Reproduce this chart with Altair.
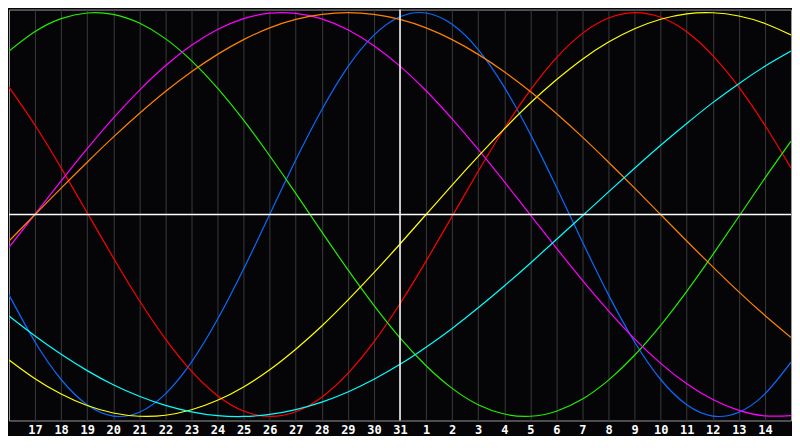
import altair as alt
import pandas as pd

# x positions: 0 = left edge (day 16), 1..29 = labelled days, 30 = right edge
positions = list(range(31))
day_labels = ["17", "18", "19", "20", "21", "22", "23", "24", "25", "26", "27", "28", "29", "30", "31",
              "1", "2", "3", "4", "5", "6", "7", "8", "9", "10", "11", "12", "13", "14"]

# values (percent, -100..100)
blue_23 = [-39.8, -63.1, -81.7, -94.2, -99.8, -97.9, -88.8, -73.1, -51.9, -27.0, 0.0, 27.0, 51.9, 73.1,
           88.8, 97.9, 99.8, 94.2, 81.7, 63.1, 39.8, 13.6, -13.6, -39.8, -63.1, -81.7, -94.2, -99.8,
           -97.9, -88.8, -73.1]
red_28 = [63.1, 44.2, 23.1, 0.9, -21.4, -42.6, -61.6, -77.6, -89.7, -97.3, -100.0, -97.7, -90.5, -78.7,
          -63.1, -44.2, -23.1, -0.9, 21.4, 42.6, 61.6, 77.6, 89.7, 97.3, 100.0, 97.7, 90.5, 78.7,
          63.1, 44.2, 23.1]
green_33 = [80.9, 90.6, 97.0, 99.8, 99.1, 94.8, 87.1, 76.2, 62.6, 46.7, 29.1, 10.5, -8.6, -27.3,
            -45.0, -61.1, -74.9, -86.1, -94.2, -98.8, -99.9, -97.4, -91.4, -82.0, -69.7, -54.9, -38.1,
            -19.9, -1.0, 18.0, 36.3]
magenta_38 = [-16.3, 0.2, 16.6, 32.6, 47.7, 61.5, 73.7, 83.8, 91.6, 97.0, 99.7, 99.6, 96.9, 91.5,
              83.6, 73.5, 61.3, 47.4, 32.3, 16.3, -0.2, -16.6, -32.6, -47.7, -61.6, -73.7, -83.8,
              -91.6, -97.0, -99.7, -99.6]
yellow_43 = [-72.0, -81.3, -88.9, -94.6, -98.3, -99.9, -99.4, -96.7, -92.0, -85.4, -76.9, -66.7, -55.2,
             -42.4, -28.8, -14.6, 0.0, 14.6, 28.8, 42.4, 55.2, 66.7, 76.9, 85.4, 92.0, 96.7, 99.4,
             99.9, 98.3, 94.6, 88.9]
orange_48 = [-13.1, 0.0, 13.1, 25.9, 38.3, 50.0, 60.9, 70.7, 79.3, 86.6, 92.4, 96.6, 99.1, 100.0,
             99.1, 96.6, 92.4, 86.6, 79.3, 70.7, 60.9, 50.0, 38.3, 25.9, 13.1, 0.0, -13.1, -25.9,
             -38.3, -50.0, -60.9]
cyan_53 = [-50.3, -60.2, -69.2, -77.3, -84.3, -90.0, -94.5, -97.7, -99.6, -100.0, -99.0, -96.6, -92.9,
           -87.9, -81.6, -74.2, -65.7, -56.4, -46.2, -35.4, -24.1, -12.4, -0.6, 11.2, 22.9, 34.3, 45.1,
           55.4, 64.8, 73.4, 80.9]

series_names = ["23", "28", "33", "38", "43", "48", "53"]
series_values = [blue_23, red_28, green_33, magenta_38, yellow_43, orange_48, cyan_53]
series_colors = ["#0a6aff", "#ff0000", "#22ee00", "#ff00ff", "#ffff00", "#ff8000", "#00ffff"]

rows = []
for name, vals in zip(series_names, series_values):
    for x, v in zip(positions, vals):
        rows.append({"x": x, "v": v, "s": name})
df = pd.DataFrame(rows)

label_list = [""] + day_labels + [""]
label_expr = "[" + ",".join("'" + d + "'" for d in label_list) + "][datum.value]"

xscale = alt.Scale(domain=[0, 30], nice=False, zero=False)
yscale = alt.Scale(domain=[-102, 101.5], nice=False, zero=False)
xaxis = alt.Axis(values=list(range(1, 30)), labelExpr=label_expr, grid=True, gridColor="#3a3a3a",
                 gridWidth=1, domain=False, ticks=False, labelColor="white",
                 labelFont="DejaVu Sans Mono", labelFontWeight="bold", labelFontSize=12,
                 labelPadding=4, title=None, labelAngle=0)

lines = alt.Chart(df).mark_line(strokeWidth=1.2, interpolate="natural", clip=True).encode(
    x=alt.X("x:Q", scale=xscale, axis=xaxis),
    y=alt.Y("v:Q", scale=yscale, axis=None),
    color=alt.Color("s:N", scale=alt.Scale(domain=series_names, range=series_colors), legend=None),
    detail="s:N",
)

hrule = alt.Chart(pd.DataFrame({"v": [0]})).mark_rule(color="white", strokeWidth=1.5).encode(
    y=alt.Y("v:Q", scale=yscale, axis=None)
)
vrule = alt.Chart(pd.DataFrame({"x": [15]})).mark_rule(color="white", strokeWidth=1.5).encode(
    x=alt.X("x:Q", scale=xscale, axis=xaxis)
)

chart = alt.layer(lines, hrule, vrule).properties(
    width=784, height=412, padding=0, background="#050508"
).configure_view(stroke="#9a9a9a", strokeWidth=1, fill="#050508")

chart.save("out.html", embed_options={"renderer": "svg", "actions": False})
